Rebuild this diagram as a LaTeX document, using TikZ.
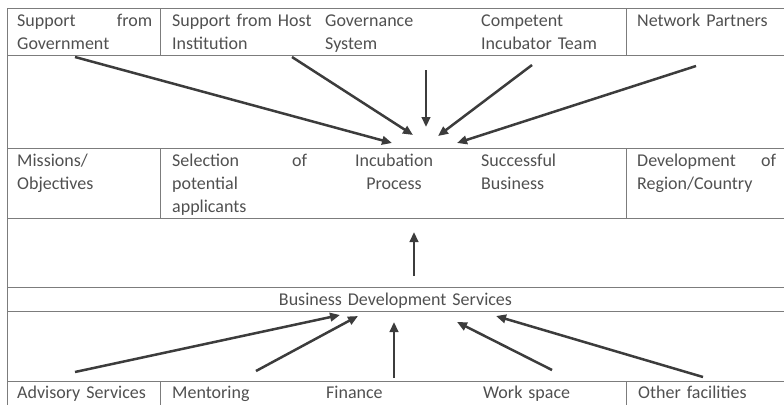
\documentclass[tikz,border=0pt]{standalone}
\usepackage{fontspec}
\setmainfont{Carlito}
\usepackage{tikz}
\usetikzlibrary{arrows.meta}
\definecolor{ink}{HTML}{505050}
\definecolor{tabgray}{HTML}{7C7C7C}
\definecolor{arrgray}{HTML}{3C3C3C}

\begin{document}
\begin{tikzpicture}[x=1pt,y=-1pt,
  cell/.style={anchor=base west,inner sep=0,text width=#1,align=left,text=ink,
    font=\fontsize{18}{23}\selectfont},
  cell/.default=135pt,
  tabline/.style={tabgray,line width=.9pt},
  arr/.style={arrgray,line width=2.5pt,-{Triangle[length=10pt,width=8.5pt]}}]
\useasboundingbox (0,0) rectangle (784,405);
% table rules
\foreach \y in {8,55,148,218,287,311,381}{\draw[tabline] (7,\y)--(784,\y);}
\draw[tabline] (7,8)--(7,405);
\foreach \x in {160,626}{
 \draw[tabline] (\x,8)--(\x,55);
 \draw[tabline] (\x,148)--(\x,218);
 \draw[tabline] (\x,381)--(\x,405);}
% top row
\node[cell] (govt) at (17,26){Support\hfill from\\Government};
\node[cell=145pt] (host) at (172,26){Support from Host\\Institution};
\node[cell] (gvs) at (325,26){Governance\\System};
\node[cell] (team) at (481,26){Competent\\Incubator Team};
\node[cell=139pt] (net) at (637,26){Network Partners};
% middle row
\node[cell] (miss) at (17,166){Missions/\\Objectives};
\node[cell] (sel) at (172,166){Selection\hfill of\\potential\\applicants};
\node[cell,anchor=base,text width=100pt,align=center] (inc) at (394,166){Incubation\\Process};
\node[cell] (succ) at (481,166){Successful\\Business};
\node[cell=139pt] (dev) at (637,166){Development\hfill of\\Region/Country};
% services band
\node[cell,anchor=base,text width=300pt,align=center] (bds) at (395.5,305){Business Development Services};
% bottom row
\node[cell] (adv) at (17,398){Advisory Services};
\node[cell] (ment) at (172,398){Mentoring};
\node[cell] (fin) at (326,398){Finance};
\node[cell] (work) at (483,398){Work space};
\node[cell=139pt] (other) at (638,398){Other facilities};
% arrow ends
\coordinate (govt-out) at (75,57);   \coordinate (inc-a) at (392,143);
\coordinate (host-out) at (292,57);  \coordinate (inc-b) at (413,135);
\coordinate (gvs-out) at (426,70);   \coordinate (inc-c) at (426,127);
\coordinate (team-out) at (532,65);  \coordinate (inc-d) at (438,136);
\coordinate (net-out) at (696,66);   \coordinate (inc-e) at (457,143);
\coordinate (bds-up) at (414,276);   \coordinate (inc-f) at (414,232);
\coordinate (adv-out) at (75,372);   \coordinate (bds-a) at (340,315);
\coordinate (ment-out) at (256,371); \coordinate (bds-b) at (358,316);
\coordinate (fin-out) at (394,378);  \coordinate (bds-c) at (394,322);
\coordinate (work-out) at (552,370); \coordinate (bds-d) at (457,322);
\coordinate (other-out) at (703,377);\coordinate (bds-e) at (496,316);
\foreach \a/\b in {govt-out/inc-a,host-out/inc-b,gvs-out/inc-c,team-out/inc-d,net-out/inc-e,
  bds-up/inc-f,adv-out/bds-a,ment-out/bds-b,fin-out/bds-c,work-out/bds-d,other-out/bds-e}
  {\draw[arr] (\a)--(\b);}
\end{tikzpicture}
\end{document}
